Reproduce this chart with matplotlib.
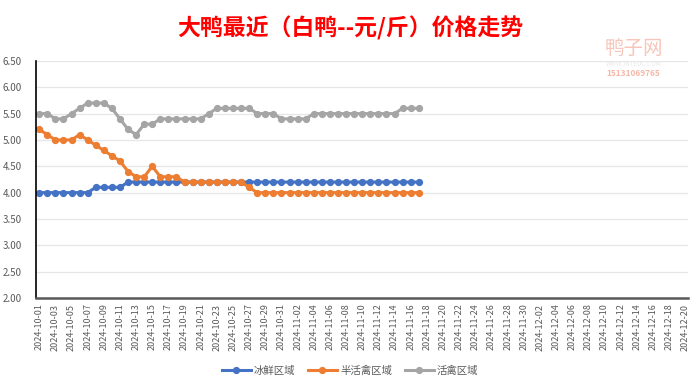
import numpy as np
import pandas as pd
import matplotlib.pyplot as plt

plt.rcParams['font.family'] = ['Noto Sans CJK SC', 'DejaVu Sans']

# x axis runs 2024-10-01 .. 2024-12-20, data only up to 11-17
dates = pd.date_range("2024-10-01", "2024-12-20", freq="D").strftime("%Y-%m-%d").tolist()

frozen = [4.0, 4.0, 4.0, 4.0, 4.0, 4.0, 4.0, 4.1, 4.1, 4.1, 4.1, 4.2,
          4.2, 4.2, 4.2, 4.2, 4.2, 4.2, 4.2, 4.2, 4.2, 4.2, 4.2, 4.2,
          4.2, 4.2, 4.2, 4.2, 4.2, 4.2, 4.2, 4.2, 4.2, 4.2, 4.2, 4.2,
          4.2, 4.2, 4.2, 4.2, 4.2, 4.2, 4.2, 4.2, 4.2, 4.2, 4.2, 4.2]
semi_live = [5.2, 5.1, 5.0, 5.0, 5.0, 5.1, 5.0, 4.9, 4.8, 4.7, 4.6, 4.4,
             4.3, 4.3, 4.5, 4.3, 4.3, 4.3, 4.2, 4.2, 4.2, 4.2, 4.2, 4.2,
             4.2, 4.2, 4.1, 4.0, 4.0, 4.0, 4.0, 4.0, 4.0, 4.0, 4.0, 4.0,
             4.0, 4.0, 4.0, 4.0, 4.0, 4.0, 4.0, 4.0, 4.0, 4.0, 4.0, 4.0]
live = [5.5, 5.5, 5.4, 5.4, 5.5, 5.6, 5.7, 5.7, 5.7, 5.6, 5.4, 5.2,
        5.1, 5.3, 5.3, 5.4, 5.4, 5.4, 5.4, 5.4, 5.4, 5.5, 5.6, 5.6,
        5.6, 5.6, 5.6, 5.5, 5.5, 5.5, 5.4, 5.4, 5.4, 5.4, 5.5, 5.5,
        5.5, 5.5, 5.5, 5.5, 5.5, 5.5, 5.5, 5.5, 5.5, 5.6, 5.6, 5.6]

series = [("冰鲜区域", frozen, "#4472C4"),
          ("半活禽区域", semi_live, "#ED7D31"),
          ("活禽区域", live, "#A5A5A5")]

fig = plt.figure(figsize=(7, 3.88), dpi=100)
ax = fig.add_axes([0.0514, 0.232, 0.931, 0.611])

x = np.arange(len(frozen))
for name, vals, col in series:
    ax.plot(x, vals, color=col, lw=2.2, marker="o", ms=4.2, label=name)

ax.set_xlim(-0.4, len(dates) - 0.7)
ax.set_ylim(2.0, 6.5)
ax.set_yticks(np.arange(2.0, 6.51, 0.5))
ax.set_yticklabels([f"{v:.2f}" for v in np.arange(2.0, 6.51, 0.5)])
ax.set_xticks(range(0, len(dates), 2))
ax.set_xticklabels(dates[::2], rotation=90)
ax.tick_params(axis="both", length=0, labelsize=6.5, colors="#595959", pad=4)
ax.tick_params(axis="y", labelsize=7, pad=10)

ax.grid(axis="y", color="#E6E6E6", lw=0.9)
ax.set_axisbelow(True)
for s in ["top", "right"]:
    ax.spines[s].set_visible(False)
ax.spines["left"].set_color("black")
ax.spines["left"].set_linewidth(1.2)
ax.spines["bottom"].set_color("#595959")
ax.spines["bottom"].set_linewidth(1.8)

fig.text(0.5, 0.928, "大鸭最近（白鸭--元/斤）价格走势", ha="center", va="center",
         color="red", fontsize=16.5, fontweight="bold")

# faint watermark, top right
fig.text(0.905, 0.875, "鸭子网", ha="center", va="center", color="#F5B7A8",
         fontsize=14, alpha=0.8)
fig.text(0.905, 0.835, "WWW.INTEDC.COM", ha="center", va="center", color="#E8E8E8",
         fontsize=4.5)
fig.text(0.905, 0.81, "15131069765", ha="center", va="center", color="#F5B7A8",
         fontsize=6, fontweight="bold")

fig.legend(loc="center", bbox_to_anchor=(0.5, 0.045), ncol=3, frameon=False,
           fontsize=7.5, labelcolor="#595959", handlelength=2.8, columnspacing=1.2,
           handletextpad=0.3)

fig.savefig("out.png", dpi=100)
